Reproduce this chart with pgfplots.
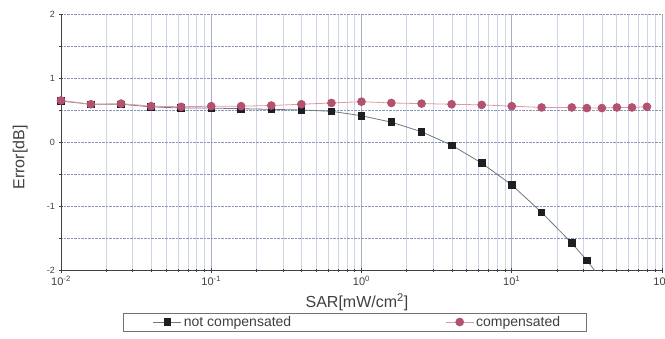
\documentclass[border=0pt]{standalone}
\usepackage{pgfplots}
\pgfplotsset{compat=1.18}
\usepackage{fontspec}
\setmainfont{Liberation Sans}
\definecolor{sqline}{RGB}{110,120,125}
\definecolor{sqfill}{RGB}{30,30,35}
\definecolor{circfill}{RGB}{178,82,112}
\definecolor{circline}{RGB}{225,150,170}
\definecolor{gmaj}{RGB}{165,175,200}
\definecolor{gmin}{RGB}{205,213,232}
\definecolor{gdot}{RGB}{140,150,180}
\begin{document}
\begin{tikzpicture}
\begin{axis}[
  at={(0,0)}, anchor=south west,
  scale only axis, width=601pt, height=256pt,
  xmode=log, xmin=0.01, xmax=100, ymin=-2, ymax=2,
  axis x line=bottom, axis y line=left,
  axis line style={-, draw=black!75, line width=0.8pt},
  xtick={0.01,0.1,1,10,100},
  xticklabels={10\textsuperscript{-2},10\textsuperscript{-1},10\textsuperscript{0},10\textsuperscript{1},10\textsuperscript{2}},
  ytick={-2,-1,0,1,2}, yticklabels={-2,-1,0,1,2},
  minor ytick={-1.5,-0.5,0.5,1.5},
  tick align=center, major tick length=5pt, minor tick length=3pt,
  tick style={draw=black!75, line width=0.6pt},
  grid=both,
  major x grid style={draw=gmaj, line width=0.6pt},
  minor x grid style={draw=gmin, line width=0.6pt},
  major y grid style={draw=gdot, densely dotted, line width=0.7pt},
  minor y grid style={draw=gdot, densely dotted, line width=0.7pt},
  x tick label style={font=\fontsize{11}{12}\selectfont, text=black!75},
  y tick label style={font=\fontsize{9}{10}\selectfont, text=black!75},
  xlabel={SAR[mW/cm\textsuperscript{2}]},
  ylabel={Error[dB]},
  xlabel style={font=\fontsize{16}{18}\selectfont, text=black!75, at={(axis description cs:0.4925,-0.125)}, anchor=center},
  ylabel style={font=\fontsize{16}{18}\selectfont, text=black!75, at={(axis description cs:-0.068,0.44)}, anchor=center},
  legend columns=3,
  legend style={at={(axis description cs:0.103,-0.168)}, anchor=north west,
    draw=black!55, font=\fontsize{14}{16}\selectfont, text=black!75,
    inner xsep=2pt, inner ysep=1pt},
  legend image code/.code={\draw[mark repeat=2,mark phase=2,#1] plot coordinates {(0pt,0pt) (14pt,0pt) (28pt,0pt)};},
  legend cell align=left,
]
\addlegendimage{empty legend}
\addlegendentry{\hspace*{24pt}}
\addplot[color=sqline, line width=0.8pt, mark=square*, mark size=3.3pt,
  mark options={fill=sqfill, draw=sqfill, solid}] table {
x y
0.01 0.64
0.0158 0.59
0.0251 0.59
0.0398 0.55
0.0631 0.53
0.1 0.53
0.158 0.52
0.251 0.51
0.398 0.50
0.631 0.48
1 0.41
1.58 0.31
2.51 0.16
3.98 -0.05
6.31 -0.33
10 -0.67
15.8 -1.10
25.1 -1.58
31.6 -1.85
39.8 -2.15
};
\addlegendentry{not compensated\hspace*{152pt}}
\addplot[color=circline, line width=0.8pt, mark=*, mark size=3.9pt,
  mark options={fill=circfill, draw=circfill, solid}] table {
x y
0.01 0.65
0.0158 0.59
0.0251 0.60
0.0398 0.56
0.0631 0.55
0.1 0.56
0.158 0.56
0.251 0.57
0.398 0.59
0.631 0.61
1 0.63
1.58 0.61
2.51 0.60
3.98 0.59
6.31 0.58
10 0.56
15.8 0.54
25.1 0.54
31.6 0.53
39.8 0.53
50.1 0.54
63.1 0.54
79.4 0.55
};
\addlegendentry{compensated\hspace*{22pt}}
\end{axis}
\pgfresetboundingbox
\useasboundingbox (-61pt,-68pt) rectangle (604pt,270pt);
\end{tikzpicture}
\end{document}
